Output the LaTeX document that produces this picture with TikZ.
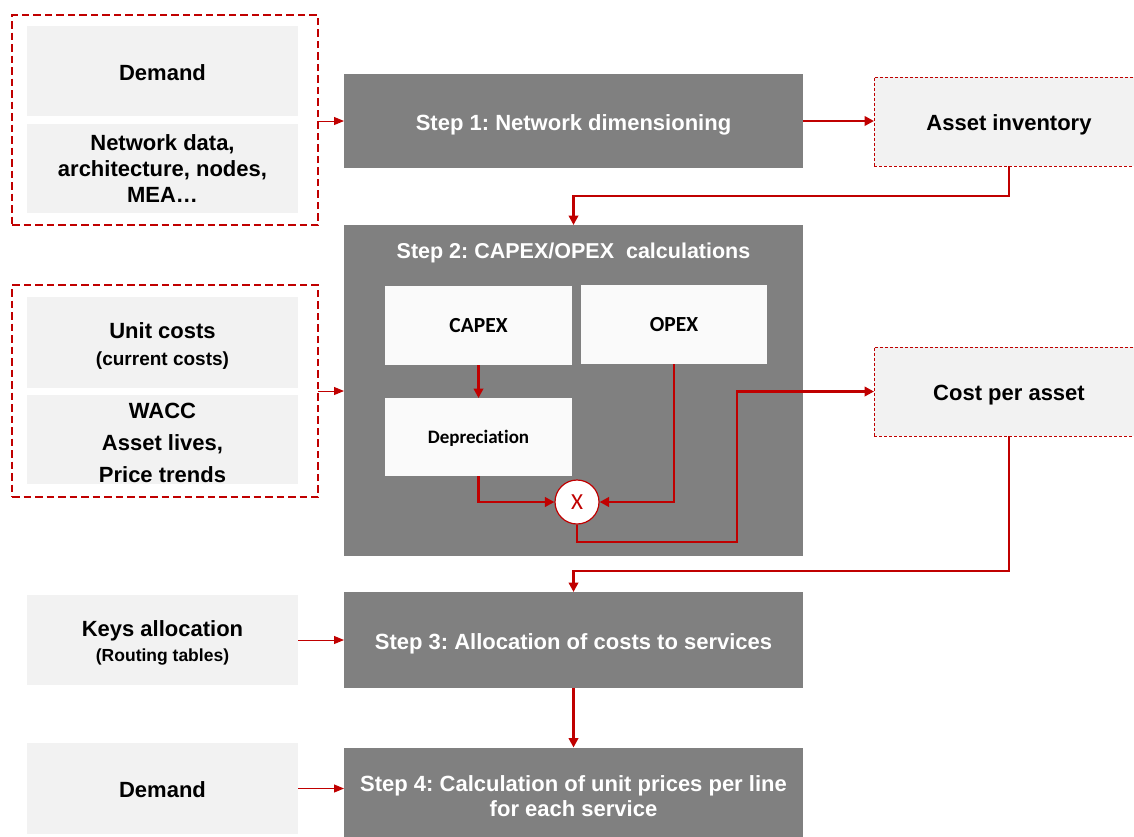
\documentclass[tikz,border=0pt]{standalone}
\usepackage{fontspec}
\setmainfont{Liberation Sans}
\newfontfamily\calib[Ligatures=NoCommon]{Carlito}
\usetikzlibrary{arrows.meta,calc}
\definecolor{myred}{HTML}{C00000}
\definecolor{stepgray}{HTML}{808080}
\definecolor{ingray}{HTML}{F2F2F2}
\definecolor{inwhite}{HTML}{FAFAFA}
\newcommand{\bigf}{\fontsize{22}{26}\selectfont\bfseries}
\newcommand{\smallf}{\fontsize{17.5}{22}\selectfont\bfseries}
\newcommand{\midf}{\fontsize{19}{22}\selectfont\bfseries}
\frenchspacing
\begin{document}
\begin{tikzpicture}[x=1pt,y=-1pt,
  box/.style={rectangle, inner sep=0pt, outer sep=0pt, align=center},
  oneline/.style={text height=18.8pt, text depth=0pt},
  inbox/.style={box, fill=ingray, minimum width=271pt},
  stepbase/.style={box, fill=stepgray, minimum width=459pt, text=white, font=\bigf},
  stepbox/.style={stepbase, oneline},
  grp/.style={box, draw=myred, line width=1.6pt, dash pattern=on 7.5pt off 4pt, minimum width=306pt},
  outbox/.style={box, oneline, fill=ingray, draw=myred, line width=0.8pt, dash pattern=on 3pt off 2pt, minimum width=270pt, minimum height=89pt, font=\bigf},
  ibox/.style={box, fill=inwhite, minimum width=187pt, font=\calib\bfseries\fontsize{21.5}{24}\selectfont},
  txt/.style={align=center, inner sep=0pt},
  conn/.style={draw=myred, line width=2.6pt, -{Triangle[length=9.5pt,width=9.5pt]}},
  thinarrow/.style={draw=myred, line width=1pt, -{Triangle[length=10pt,width=8pt]}},
]
\useasboundingbox (0,0) rectangle (1134,836);

% left input groups
\node[grp, minimum height=210pt] (g1) at (165,120) {};
\node[inbox, oneline, minimum height=90pt, font=\bigf] (dem1) at (162.5,71) {Demand};
\node[inbox, minimum height=89pt, font=\bigf] (net) at (162.5,168.5) {Network data,\\architecture, nodes,\\MEA…};

\node[grp, minimum height=212pt] (g2) at (165,391) {};
\node[inbox, minimum height=91pt] (uc) at (162.5,342.5) {};
\node[txt, font=\bigf] (uct) at (162.5,331) {Unit costs};
\node[txt, font=\midf] (ucs) at (162.5,360.5) {(current costs)};
\node[inbox, minimum height=89pt] (wacc) at (162.5,439.5) {};
\node[txt, font=\fontsize{22}{32}\selectfont\bfseries] (wacct) at (162.5,442.5) {WACC\\Asset lives,\\Price trends};

\node[inbox, minimum height=90pt] (keys) at (162.5,640) {};
\node[txt, font=\bigf] (keyst) at (162.5,631) {Keys allocation};
\node[txt, font=\smallf] (keyss) at (162.5,657.5) {(Routing tables)};

\node[inbox, oneline, minimum height=91pt, font=\bigf] (dem2) at (162.5,788.5) {Demand};

% steps
\node[stepbox, minimum height=94pt] (s1) at (573.5,121) {Step 1: Network dimensioning};
\node[stepbase, minimum height=331pt] (s2) at (573.5,390.5) {};
\node[txt, text=white, font=\fontsize{21.5}{24}\selectfont\bfseries] (s2t) at (573.5,253) {Step 2: CAPEX/OPEX\ \ calculations};
\node[stepbox, minimum height=96pt] (s3) at (573.5,640) {Step 3: Allocation of costs to services};
\node[stepbase, minimum height=98pt, font=\fontsize{22}{25}\selectfont\bfseries] (s4) at (573.5,796.5) {Step 4: Calculation of unit prices per line\\for each service};

% inner boxes
\node[ibox, minimum height=79pt] (capex) at (478.5,325.5) {CAPEX};
\node[ibox, minimum height=79pt, minimum width=186pt] (opex) at (674,324.5) {OPEX};
\node[ibox, minimum height=78pt, text height=13.2pt, text depth=0pt, font=\calib\bfseries\fontsize{19}{22}\selectfont] (dep) at (478.5,437) {Depreciation};
\node[circle, draw=myred, fill=white, line width=1.2pt, minimum size=44pt, inner sep=0pt, text=myred, font=\calib\fontsize{23}{24}\selectfont] (mul) at (577,502) {X};

% outputs
\node[outbox] (ai) at (1009,121.5) {Asset inventory};
\node[outbox] (cpa) at (1009,391.5) {Cost per asset};

% connectors
\coordinate (b1) at (573.5,196);
\coordinate (b2) at (737,542);
\coordinate (b3) at (573.5,571);

\draw[thinarrow] (s1.west -| g1.east) -- (s1.west);
\draw[conn] (s1.east) -- (s1.east -| ai.west);
\draw[conn] (ai.south) |- (b1) -- (s2.north);
\draw[thinarrow] (g2.east) -- (g2.east -| s2.west);
\draw[conn] (capex.south) -- (dep.north);
\draw[conn] (dep.south) |- (mul.west);
\draw[conn] (opex.south) |- (mul.east);
\draw[conn] (mul.south) |- (b2) |- (cpa.west);
\draw[conn] (cpa.south) |- (b3) -- (s3.north);
\draw[thinarrow] (keys.east) -- (s3.west);
\draw[conn] (s3.south) -- (s4.north);
\draw[thinarrow] (dem2.east) -- (dem2.east -| s4.west);
\end{tikzpicture}
\end{document}
